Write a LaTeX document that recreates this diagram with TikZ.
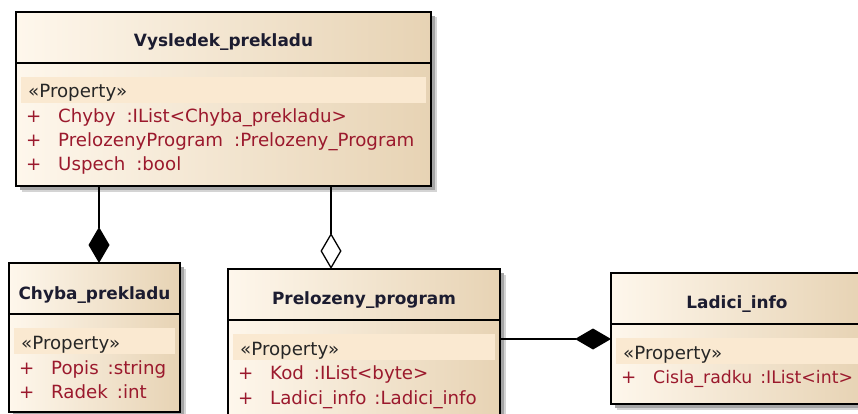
\documentclass[tikz,border=0pt]{standalone}
\usepackage{fontspec}
\setmainfont{DejaVu Sans}
\usetikzlibrary{arrows.meta,calc}
\definecolor{fillL}{RGB}{254,247,236}
\definecolor{fillR}{RGB}{231,211,180}
\definecolor{bandc}{RGB}{250,233,209}
\definecolor{attrc}{RGB}{155,25,45}
\definecolor{ttlc}{RGB}{28,28,48}
\definecolor{shdA}{RGB}{165,165,165}
\definecolor{shdB}{RGB}{212,212,212}
\tikzset{
  classbox/.style={draw=black, line width=1.4pt, left color=fillL, right color=fillR, anchor=north west, inner sep=0pt, outer sep=0pt},
  divline/.style={draw=black, line width=1.2pt},
  titletext/.style={font=\fontsize{16.9}{20}\selectfont\bfseries, text=ttlc, anchor=base, inner sep=0pt},
  stereo/.style={font=\fontsize{18.2}{21}\selectfont, text=black!85, anchor=base west, inner sep=0pt},
  attrtext/.style={font=\fontsize{18.2}{21}\selectfont, text=attrc, anchor=base west, inner sep=0pt},
  attrnarrow/.style={attrtext, font=\fontsize{17.3}{21}\selectfont},
  conn/.style={draw=black, line width=1.3pt},
  comp/.style={conn, -{Diamond[length=36pt, width=21pt, fill=black]}},
  aggr/.style={conn, -{Diamond[length=36pt, width=21pt, open, fill=white]}},
}
\newcommand{\umlbox}[5]{%
  \fill[shdB] (#2+5.5,#3+5.5) rectangle (#2+#4+5.5,#3+#5+5.5);
  \fill[shdA] (#2+4,#3+4) rectangle (#2+#4+4,#3+#5+4);
  \node[classbox, minimum width=#4pt, minimum height=#5pt] (#1) at (#2,#3) {};
  \fill[bandc] ($(#1.north west)+(5,65)$) rectangle ($(#1.north east)+(-5,91)$);
  \draw[divline] ($(#1.north west)+(0,51)$) -- ($(#1.north east)+(0,51)$);
  \node[stereo] (#1-st) at ($(#1.north west)+(12,86)$) {«Property»};
}
\newcommand{\attrrow}[6]{%
  \node[attrtext] (#1-p#2) at ($(#1.north west)+(10,#3)$) {+};
  \node[attrtext] (#1-a#2) at ($(#1.north west)+(42,#3)$) {#4\hspace{#6pt}:#5};
}
\begin{document}
\begin{tikzpicture}[x=1pt,y=-1pt]
\useasboundingbox (0,0) rectangle (858,414);
\clip (0,0) rectangle (858,414);
\fill[white] (0,0) rectangle (858,414);

% Vysledek_prekladu
\umlbox{vys}{16}{12}{415}{174}
\node[titletext] (vys-t) at ($(vys.north)+(0,35)$) {Vysledek\_prekladu};
\attrrow{vys}{1}{111}{Chyby}{IList<Chyba\_prekladu>}{11}
\attrrow{vys}{2}{135}{PrelozenyProgram}{Prelozeny\_Program}{11}
\attrrow{vys}{3}{159}{Uspech}{bool}{11}

% Chyba_prekladu
\umlbox{chy}{9}{263}{171}{149}
\node[titletext] (chy-t) at ($(chy.north)+(0,36)$) {Chyba\_prekladu};
\attrrow{chy}{1}{111}{Popis}{string}{9}
\attrrow{chy}{2}{135}{Radek}{int}{9}

% Prelozeny_program
\umlbox{pre}{228}{269}{272}{160}
\node[titletext] (pre-t) at ($(pre.north)+(0,35)$) {Prelozeny\_program};
\attrrow{pre}{1}{110}{Kod}{IList<byte>}{10}
\attrrow{pre}{2}{135}{Ladici\_info}{Ladici\_info}{8}

% Ladici_info
\umlbox{lad}{611}{273}{252}{131}
\node[titletext] (lad-t) at ($(lad.north)+(0,35)$) {Ladici\_info};
\node[attrtext] (lad-p1) at ($(lad.north west)+(10,110)$) {+};
\node[attrnarrow] (lad-a1) at ($(lad.north west)+(42,110)$) {Cisla\_radku\hspace{8pt}:IList<int>};

% connectors
\coordinate (c1) at ($(vys.south west)+(83,0)$);
\draw[comp] (c1) -- (c1 |- chy.north);
\coordinate (c2) at ($(vys.south west)+(315,0)$);
\draw[aggr] (c2) -- (c2 |- pre.north);
\coordinate (c3) at ($(pre.north east)+(0,70)$);
\draw[comp] (c3) -- (c3 -| lad.west);
\end{tikzpicture}
\end{document}
